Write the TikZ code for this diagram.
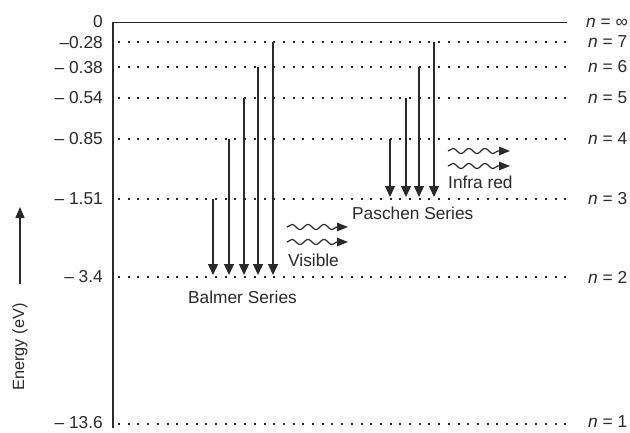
\documentclass[tikz,border=0pt]{standalone}
\usepackage{fontspec}
\setmainfont{Liberation Sans}
\usetikzlibrary{arrows.meta,decorations.pathmorphing}
\definecolor{ink}{HTML}{2A2A2A}
\tikzset{
  lbl/.style={font=\fontsize{17.3}{20}\selectfont, text=ink, inner sep=0pt},
  level/.style={ink, line width=1.3pt, dash pattern=on 2pt off 7.7pt},
  trans/.style={ink, line width=1.4pt, -{Triangle[length=11pt,width=10pt]}},
  wave/.style={ink, line width=1.2pt, -{Triangle[length=11pt,width=8.5pt]},
    decorate, decoration={snake, segment length=16pt, amplitude=2.6pt, post length=11pt}},
}
\begin{document}
\begin{tikzpicture}[x=1pt,y=-1pt]
\useasboundingbox (0,0) rectangle (630,432);
\fill[white] (0,0) rectangle (630,432);
% level coordinates
\def\xL{118}\def\xR{567}
\foreach \nm/\yy in {L7/42, L6/67, L5/98, L4/139, L3/199, L2/277, L1/424}{
  \coordinate (\nm a) at (\xL,\yy);
  \coordinate (\nm b) at (\xR,\yy);
}
\coordinate (axtop) at (113,22.5);
\coordinate (axbot) at (113,428);
\coordinate (inftyR) at (\xR,22.5);
% axis and top line
\draw[ink, line width=1.5pt] (axbot) -- (axtop) -- (inftyR);
% dotted levels
\foreach \nm in {L7,L6,L5,L4,L3,L2,L1}{ \draw[level] (\nm a) -- (\nm b); }
% left energy labels
\node[lbl, anchor=east] (e0) at (103,21.5) {0};
\node[lbl, anchor=east] (e7) at (103,43) {–0.28};
\node[lbl, anchor=east] (e6) at (103,67.5) {– 0.38};
\node[lbl, anchor=east] (e5) at (103,98) {– 0.54};
\node[lbl, anchor=east] (e4) at (103,139) {– 0.85};
\node[lbl, anchor=east] (e3) at (103,198.5) {– 1.51};
\node[lbl, anchor=east] (e2) at (103,277) {– 3.4};
\node[lbl, anchor=east] (e1) at (103,422.5) {– 13.6};
% right n labels
\node[lbl, anchor=west] (ninf) at (586,22.5) {\textit{n} = ∞};
\node[lbl, anchor=west] (n7) at (588,42) {\textit{n} = 7};
\node[lbl, anchor=west] (n6) at (588,67) {\textit{n} = 6};
\node[lbl, anchor=west] (n5) at (588,98) {\textit{n} = 5};
\node[lbl, anchor=west] (n4) at (588,139) {\textit{n} = 4};
\node[lbl, anchor=west] (n3) at (588,199) {\textit{n} = 3};
\node[lbl, anchor=west] (n2) at (588,277) {\textit{n} = 2};
\node[lbl, anchor=west] (n1) at (588,422) {\textit{n} = 1};
% Balmer series
\foreach \xx/\lv in {213/L3, 229/L4, 244/L5, 258/L6, 273/L7}{
  \coordinate (bs\xx) at (\xx,0 |- \lv a);
  \coordinate (be\xx) at (\xx,275);
  \draw[trans] (bs\xx) -- (be\xx);
}
% Paschen series
\foreach \xx/\lv in {390/L4, 406/L5, 419/L6, 434/L7}{
  \coordinate (ps\xx) at (\xx,0 |- \lv a);
  \coordinate (pe\xx) at (\xx,197);
  \draw[trans] (ps\xx) -- (pe\xx);
}
% wavy arrows
\coordinate (v1a) at (287,227); \coordinate (v1b) at (348,227);
\coordinate (v2a) at (287,242); \coordinate (v2b) at (348,242);
\coordinate (i1a) at (448,151); \coordinate (i1b) at (510,151);
\coordinate (i2a) at (448,166); \coordinate (i2b) at (510,166);
\draw[wave] (v1a) -- (v1b);
\draw[wave] (v2a) -- (v2b);
\draw[wave] (i1a) -- (i1b);
\draw[wave] (i2a) -- (i2b);
% texts
\node[lbl, anchor=west] (vis) at (288,260) {Visible};
\node[lbl, anchor=west] (ir) at (448,182) {Infra red};
\node[lbl, anchor=west] (pas) at (352,213) {Paschen Series};
\node[lbl, anchor=west] (bal) at (188,297) {Balmer Series};
% energy axis label
\node[lbl, rotate=90, font=\fontsize{16.3}{19}\selectfont] (en) at (20,347) {Energy (eV)};
\coordinate (ea1) at (20,284);
\coordinate (ea2) at (20,207);
\draw[ink, line width=1.3pt, -{Triangle[length=11pt,width=9pt]}] (ea1) -- (ea2);
\end{tikzpicture}
\end{document}
